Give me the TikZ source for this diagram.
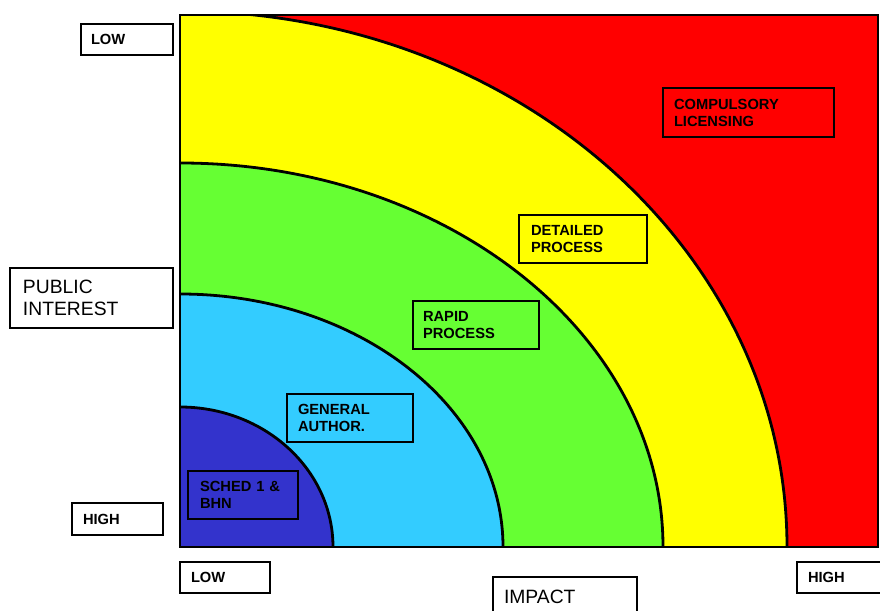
\documentclass[tikz,border=0pt]{standalone}
\usepackage{fontspec}
\setmainfont{Liberation Sans}
\definecolor{cred}{HTML}{FF0000}
\definecolor{cyellow}{HTML}{FFFF00}
\definecolor{cgreen}{HTML}{66FF33}
\definecolor{clblue}{HTML}{33CCFF}
\definecolor{cdblue}{HTML}{3333CC}
\begin{document}
\begin{tikzpicture}[x=1pt,y=1pt,
  box/.style={draw=black, line width=2.9pt, rectangle, align=left, inner ysep=0pt,
    font=\bfseries\fontsize{14.7}{17}\selectfont},
  bigbox/.style={draw=black, line width=2.9pt, rectangle, align=left, inner ysep=0pt,
    font=\fontsize{19.3}{22.7}\selectfont},
  curve/.style={draw=black, line width=2.8pt}]
\useasboundingbox (0,0) rectangle (880,610);
% coloured zones
\begin{scope}
  \clip (180,63) rectangle (878,595);
  \fill[cred] (180,63) rectangle (878,595);
  \fill[cyellow] (180,63) -- (787,63) arc[start angle=0,end angle=90,x radius=607,y radius=536] -- cycle;
  \fill[cgreen] (180,63) -- (663,63) arc[start angle=0,end angle=90,x radius=483,y radius=384] -- cycle;
  \fill[clblue] (180,63) -- (503,63) arc[start angle=0,end angle=90,x radius=323,y radius=253] -- cycle;
  \fill[cdblue] (180,63) -- (333,63) arc[start angle=0,end angle=90,x radius=153,y radius=140] -- cycle;
  \draw[curve] (787,63) arc[start angle=0,end angle=90,x radius=607,y radius=536];
  \draw[curve] (663,63) arc[start angle=0,end angle=90,x radius=483,y radius=384];
  \draw[curve] (503,63) arc[start angle=0,end angle=90,x radius=323,y radius=253];
  \draw[curve] (333,63) arc[start angle=0,end angle=90,x radius=153,y radius=140];
\end{scope}
\draw[curve] (180,63) rectangle (878,595);
% axis labels
\node[box, fill=white, minimum width=92, minimum height=31, inner xsep=10, text width=72] (lowL) at (127,570.5) {LOW};
\node[bigbox, fill=white, minimum width=163, minimum height=60, inner xsep=13, text width=137] (pub) at (91.5,312) {PUBLIC\\INTEREST};
\node[box, fill=white, minimum width=91, minimum height=32, inner xsep=11, text width=69] (highL) at (117.5,91) {HIGH};
\node[box, fill=white, minimum width=90, minimum height=31, inner xsep=11, text width=68] (lowB) at (225,32.5) {LOW};
\node[bigbox, fill=white, minimum width=144, minimum height=40, inner xsep=11, text width=122] (impact) at (565,13) {IMPACT};
\node[box, fill=white, minimum width=91, minimum height=31, inner xsep=11, text width=69] (highR) at (842.5,32.5) {HIGH};
% zone labels
\node[box, minimum width=110, minimum height=48, inner xsep=12, text width=86] (sched) at (243,115) {SCHED 1 \&\\BHN};
\node[box, minimum width=126, minimum height=48, inner xsep=11, text width=104] (gen) at (350,192) {GENERAL\\AUTHOR.};
\node[box, minimum width=126, minimum height=48, inner xsep=10, text width=106] (rapid) at (476,285) {RAPID\\PROCESS};
\node[box, minimum width=128, minimum height=48, inner xsep=12, text width=104] (det) at (583,371) {DETAILED\\PROCESS};
\node[box, minimum width=171, minimum height=49, inner xsep=11, text width=149] (comp) at (748.5,497.5) {COMPULSORY\\LICENSING};
\end{tikzpicture}
\end{document}
